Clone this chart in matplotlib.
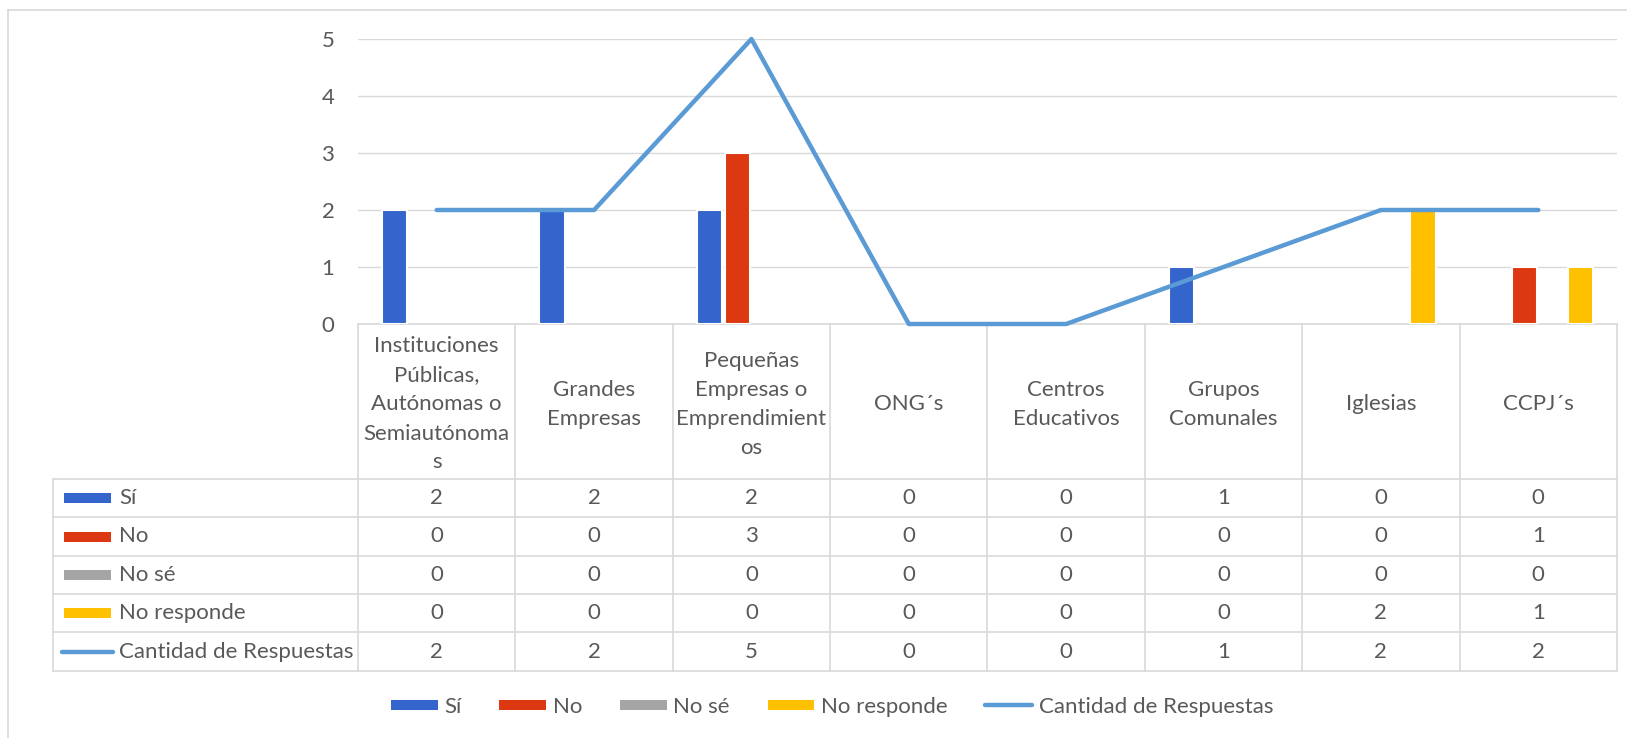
import matplotlib
matplotlib.use("Agg")
import matplotlib.pyplot as plt
from matplotlib.lines import Line2D

# Datos del gráfico
categorias = ["Instituciones\nPúblicas,\nAutónomas o\nSemiautónoma\ns",
              "Grandes\nEmpresas",
              "Pequeñas\nEmpresas o\nEmprendimient\nos",
              "ONG´s",
              "Centros\nEducativos",
              "Grupos\nComunales",
              "Iglesias",
              "CCPJ´s"]
si = [2, 2, 2, 0, 0, 1, 0, 0]
no = [0, 0, 3, 0, 0, 0, 0, 1]
no_se = [0, 0, 0, 0, 0, 0, 0, 0]
no_responde = [0, 0, 0, 0, 0, 0, 2, 1]
cantidad = [2, 2, 5, 0, 0, 1, 2, 2]

series_barras = ["Sí", "No", "No sé", "No responde"]
colores = ["#3465CC", "#DC3912", "#A5A5A5", "#FFC000"]
color_linea = "#5B9BD5"
nombre_linea = "Cantidad de Respuestas"

gris_txt = "#595959"
gris_lin = "#D9D9D9"
fuente = ["Lato", "DejaVu Sans"]
tam = 16

plt.rcParams["font.family"] = fuente

W, H = 1627, 738
fig = plt.figure(figsize=(W / 100, H / 100), dpi=100)

# geometría (px)
x0, x1 = 358, 1617
y_top, y_cero = 39, 324
n = len(categorias)
colw = (x1 - x0) / n

# capa para la tabla y el borde
capa = fig.add_axes([0, 0, 1, 1], zorder=0)
capa.set_xlim(0, W)
capa.set_ylim(H, 0)
capa.axis("off")

ax = fig.add_axes([x0 / W, 1 - y_cero / H, (x1 - x0) / W, (y_cero - y_top) / H], zorder=2)
ax.patch.set_alpha(0)
ax.set_xlim(0, n)
ax.set_ylim(0, 5)

# barras
valores = [si, no, no_se, no_responde]
paso = 0.178
ancho = 0.16
for j, vals in enumerate(valores):
    xs = [i + 0.5 + (j - 1.5) * paso for i in range(n) if vals[i] > 0]
    hs = [v for v in vals if v > 0]
    if xs:
        ax.bar(xs, hs, width=ancho, color=colores[j], edgecolor="white",
               linewidth=1.5, zorder=3)

# línea
ax.plot([i + 0.5 for i in range(n)], cantidad, color=color_linea, lw=3.2,
        solid_capstyle="round", solid_joinstyle="round", zorder=4, clip_on=False)

ax.set_yticks(range(6))
ax.yaxis.grid(True, color=gris_lin, lw=1.0, zorder=0)
ax.set_axisbelow(True)
ax.set_xticks([])
for s in ["left", "right", "top"]:
    ax.spines[s].set_visible(False)
ax.spines["bottom"].set_color(gris_lin)
ax.spines["bottom"].set_linewidth(1.2)
ax.tick_params(axis="y", length=0, pad=17, labelsize=tam, labelcolor=gris_txt)

# borde del área del gráfico
capa.plot([8, 8], [10, H], color=gris_lin, lw=1.2)
capa.plot([8, W], [10, 10], color=gris_lin, lw=1.2)

# tabla de datos
filas_y = [479, 517.3, 555.7, 594, 632.3, 670.7]
t_left = 53
for k in range(n + 1):
    xk = x0 + k * colw
    capa.plot([xk, xk], [y_cero, filas_y[-1]], color=gris_lin, lw=1.2)
capa.plot([t_left, t_left], [filas_y[0], filas_y[-1]], color=gris_lin, lw=1.2)
for yy in filas_y:
    capa.plot([t_left, x1], [yy, yy], color=gris_lin, lw=1.2)

# encabezados (una línea de texto cada 29 px)
interlinea = 29
y_medio = (y_cero + filas_y[0]) / 2 + 1
for i, cat in enumerate(categorias):
    lineas = cat.split("\n")
    for k, linea in enumerate(lineas):
        yy = y_medio + (k - (len(lineas) - 1) / 2) * interlinea
        capa.text(x0 + (i + 0.5) * colw, yy, linea, ha="center", va="center_baseline",
                  fontsize=tam, color=gris_txt)

# filas
nombres = series_barras + [nombre_linea]
datos = valores + [cantidad]
for r, (nom, vals) in enumerate(zip(nombres, datos)):
    yc = (filas_y[r] + filas_y[r + 1]) / 2
    if r < 4:
        capa.plot([64, 111], [yc, yc], color=colores[r], lw=7.2, solid_capstyle="butt")
    else:
        capa.plot([62, 113], [yc, yc], color=color_linea, lw=3.2, solid_capstyle="round")
    capa.text(119, yc, nom, ha="left", va="center", fontsize=tam, color=gris_txt)
    for i, v in enumerate(vals):
        capa.text(x0 + (i + 0.5) * colw, yc, str(v), ha="center", va="center",
                  fontsize=tam, color=gris_txt)

# leyenda
handles = [Line2D([], [], color=c, lw=7.2, solid_capstyle="butt") for c in colores]
handles.append(Line2D([], [], color=color_linea, lw=3.2, solid_capstyle="round"))
fig.legend(handles, nombres, loc="center", bbox_to_anchor=(832 / W, 1 - 707 / H),
           ncol=5, frameon=False, fontsize=tam, labelcolor=gris_txt,
           handlelength=2.1, handletextpad=0.3, columnspacing=1.7)

fig.savefig("out.png", dpi=100, facecolor="white")
